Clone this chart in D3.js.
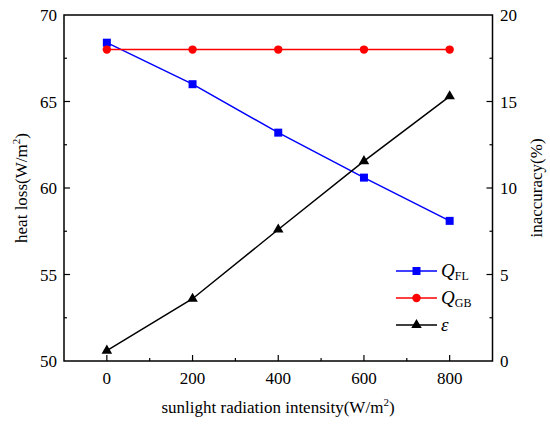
<!DOCTYPE html>
<html><head><meta charset="utf-8">
<script src="https://cdn.jsdelivr.net/npm/d3@7"></script>
<style>body{margin:0;background:#fff}svg{display:block}</style>
</head><body>
<svg id="c" width="550" height="427" font-family="'Times New Roman', 'Liberation Serif', 'DejaVu Serif', serif"></svg>
<script>
const xValues = [0, 200, 400, 600, 800];
const qFL = [68.4, 66.0, 63.2, 60.6, 58.1];
const qGB = [68.0, 68.0, 68.0, 68.0, 68.0];
const eps = [0.6, 3.6, 7.6, 11.55, 15.3];
const xTicks = [0, 200, 400, 600, 800];
const yLeftTicks = [50, 55, 60, 65, 70];
const yRightTicks = [0, 5, 10, 15, 20];

const svg = d3.select("#c");
const FONT = "'Times New Roman', 'Liberation Serif', 'DejaVu Serif', serif";
const L = 64, R = 492.5, T = 15, B = 361;
const x = d3.scaleLinear().domain([-100, 900]).range([L, R]);
const yL = d3.scaleLinear().domain([50, 70]).range([B, T]);
const yR = d3.scaleLinear().domain([0, 20]).range([B, T]);
const fs = 17;
const txt = (sel) => sel.append("text").attr("font-family", FONT).attr("fill", "#000");

// frame
svg.append("rect").attr("x", L).attr("y", T).attr("width", R - L).attr("height", B - T)
  .attr("fill", "none").attr("stroke", "#000").attr("stroke-width", 1.5);

// ticks
const tk = svg.append("g").attr("stroke", "#000").attr("stroke-width", 1.2);
d3.range(-100, 901, 100).forEach(v => {
  const major = xTicks.includes(v);
  if (v === -100 || v === 900) return;
  tk.append("line").attr("x1", x(v)).attr("x2", x(v)).attr("y1", B).attr("y2", B - (major ? 6 : 3));
});
d3.range(50, 70.01, 2.5).forEach(v => {
  const major = yLeftTicks.includes(v);
  if (v === 50 || v === 70) return;
  tk.append("line").attr("x1", L).attr("x2", L + (major ? 6 : 3)).attr("y1", yL(v)).attr("y2", yL(v));
});
d3.range(0, 20.01, 2.5).forEach(v => {
  const major = yRightTicks.includes(v);
  if (v === 0 || v === 20) return;
  tk.append("line").attr("x1", R).attr("x2", R - (major ? 6 : 3)).attr("y1", yR(v)).attr("y2", yR(v));
});

// tick labels
xTicks.forEach(v => txt(svg).attr("x", x(v)).attr("y", 384).attr("text-anchor", "middle")
  .attr("font-size", fs).text(v));
yLeftTicks.forEach(v => txt(svg).attr("x", 57).attr("y", yL(v) + 6).attr("text-anchor", "end")
  .attr("font-size", fs).text(v));
yRightTicks.forEach(v => txt(svg).attr("x", 500).attr("y", yR(v) + 6).attr("text-anchor", "start")
  .attr("font-size", fs).text(v));

// axis titles
const xt = txt(svg).attr("x", 278).attr("y", 413).attr("text-anchor", "middle").attr("font-size", fs);
xt.append("tspan").text("sunlight radiation intensity(W/m");
xt.append("tspan").attr("font-size", 11).attr("dy", -7).text("2");
xt.append("tspan").attr("dy", 7).text(")");

const yt = txt(svg).attr("transform", `translate(27,${(T + B) / 2}) rotate(-90)`)
  .attr("text-anchor", "middle").attr("font-size", fs);
yt.append("tspan").text("heat loss(W/m");
yt.append("tspan").attr("font-size", 11).attr("dy", -7).text("2");
yt.append("tspan").attr("dy", 7).text(")");

txt(svg).attr("transform", `translate(542,${(T + B) / 2}) rotate(-90)`)
  .attr("text-anchor", "middle").attr("font-size", fs).text("inaccuracy(%)");

// series
const series = [
  {vals: qFL, y: yL, color: "#0000ff", marker: "square"},
  {vals: qGB, y: yL, color: "#ff0000", marker: "circle"},
  {vals: eps, y: yR, color: "#000000", marker: "triangle"}
];
const symType = {square: d3.symbolSquare, circle: d3.symbolCircle, triangle: d3.symbolTriangle};
const symSize = {square: 64, circle: 56, triangle: 48};

series.forEach(s => {
  const line = d3.line().x((d, i) => x(xValues[i])).y(d => s.y(d));
  svg.append("path").datum(s.vals).attr("d", line).attr("fill", "none")
    .attr("stroke", s.color).attr("stroke-width", 1.5);
  svg.selectAll(null).data(s.vals).enter().append("path")
    .attr("d", d3.symbol().type(symType[s.marker]).size(symSize[s.marker]))
    .attr("transform", (d, i) => `translate(${x(xValues[i])},${s.y(d)})`)
    .attr("fill", s.color);
});

// legend
const legY = [271, 298, 325];
const legLabels = [["Q", "FL"], ["Q", "GB"], ["ε", ""]];
series.forEach((s, i) => {
  svg.append("line").attr("x1", 396).attr("x2", 437).attr("y1", legY[i]).attr("y2", legY[i])
    .attr("stroke", s.color).attr("stroke-width", 1.5);
  svg.append("path").attr("d", d3.symbol().type(symType[s.marker]).size(symSize[s.marker]))
    .attr("transform", `translate(416.5,${legY[i]})`).attr("fill", s.color);
  const t = txt(svg).attr("x", 441).attr("y", legY[i] + 6).attr("font-size", fs + 2);
  t.append("tspan").attr("font-style", "italic").text(legLabels[i][0]);
  if (legLabels[i][1]) t.append("tspan").attr("font-size", 12).attr("dy", 3).text(legLabels[i][1]);
});
</script>
</body></html>
